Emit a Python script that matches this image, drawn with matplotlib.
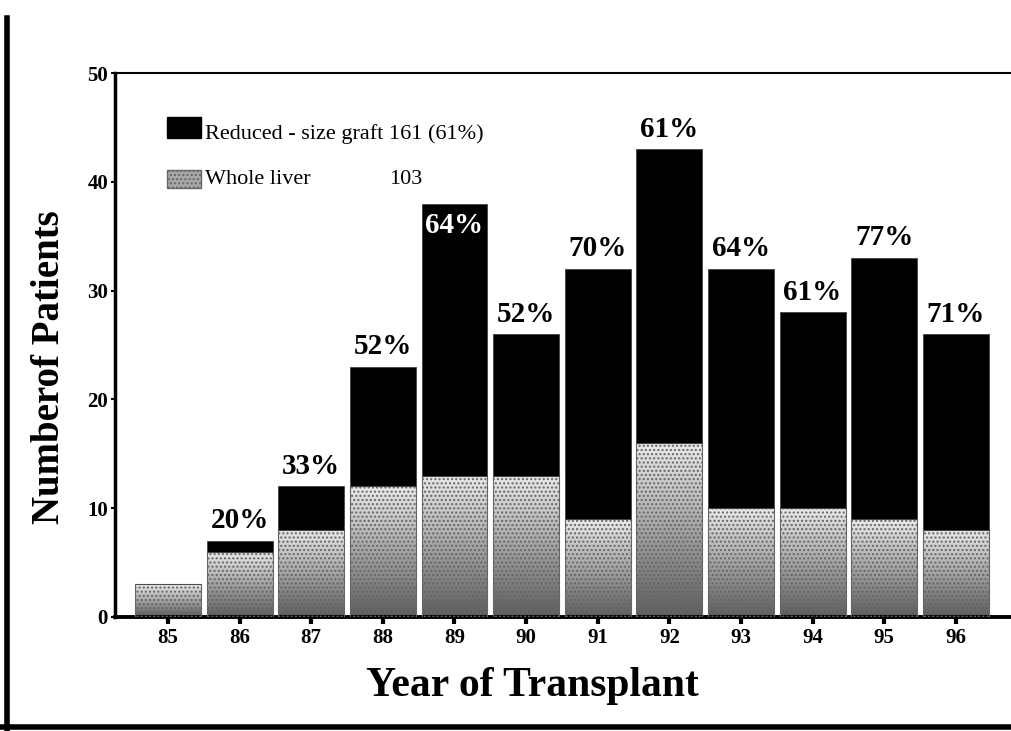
import numpy as np
import matplotlib.pyplot as plt
from matplotlib.lines import Line2D
from matplotlib.patches import Rectangle

years = ['85', '86', '87', '88', '89', '90', '91', '92', '93', '94', '95', '96']
whole_liver = [3, 6, 8, 12, 13, 13, 9, 16, 10, 10, 9, 8]
reduced_size = [0, 1, 4, 11, 25, 13, 23, 27, 22, 18, 24, 18]
pct_labels = ['', '20%', '33%', '52%', '64%', '52%', '70%', '61%', '64%', '61%', '77%', '71%']
inside_label_years = ['89']
legend_reduced = 'Reduced - size graft 161 (61%)'
legend_whole = 'Whole liver'
legend_whole_count = '103'

plt.rcParams['font.family'] = ['Liberation Serif', 'DejaVu Serif']

fig = plt.figure(figsize=(10.11, 7.31), dpi=100)
ax = fig.add_axes([0.1137, 0.156, 0.8863, 0.744])

x = np.arange(len(years))
w = 0.92
totals = np.array(whole_liver) + np.array(reduced_size)

# stippled whole-liver bars: gradient light (top) -> dark (bottom) plus dots
grad = np.linspace(0.92, 0.36, 256).reshape(-1, 1)
whole_bars = ax.bar(x, whole_liver, w, color='none', edgecolor='#666666',
                    linewidth=0.8, hatch='....', zorder=3)
for b in whole_bars:
    im = ax.imshow(grad, cmap='gray', vmin=0, vmax=1, origin='upper', aspect='auto',
                   extent=(b.get_x(), b.get_x() + b.get_width(), 0, b.get_height()),
                   zorder=2)
    im.set_clip_path(b)

ax.bar(x, reduced_size, w, bottom=whole_liver, color='black', edgecolor='#444444',
       linewidth=0.6, zorder=3)

for i, lbl in enumerate(pct_labels):
    if not lbl:
        continue
    if years[i] in inside_label_years:
        ax.text(x[i], totals[i] - 2.0, lbl, ha='center', va='center', color='white',
                fontsize=21, fontweight='bold', zorder=5)
    else:
        ax.text(x[i], totals[i] + 0.6, lbl, ha='center', va='bottom', color='black',
                fontsize=21, fontweight='bold', zorder=5)

ax.set_xlim(-0.74, 11.77)
ax.set_ylim(0, 50)
ax.set_xticks(x, years)
ax.set_yticks([0, 10, 20, 30, 40, 50])
ax.tick_params(axis='x', direction='out', length=5, width=3, labelsize=15, pad=3)
ax.tick_params(axis='y', direction='out', length=3, width=1.5, labelsize=15, pad=2)
for t in ax.get_xticklabels() + ax.get_yticklabels():
    t.set_fontweight('bold')

ax.spines['right'].set_visible(False)
ax.spines['left'].set_linewidth(2.5)
ax.spines['bottom'].set_linewidth(2.8)
ax.spines['top'].set_linewidth(1.5)

# legend drawn by hand
ax.add_patch(Rectangle((0.058, 0.880), 0.038, 0.040, transform=ax.transAxes,
                       facecolor='black', edgecolor='black', zorder=4))
leg_patch = Rectangle((0.058, 0.788), 0.038, 0.033, transform=ax.transAxes,
                      facecolor='#a8a8a8', edgecolor='#666666', hatch='....', zorder=4)
ax.add_patch(leg_patch)
ax.text(0.101, 0.888, legend_reduced, transform=ax.transAxes, fontsize=16,
        ha='left', va='center')
ax.text(0.101, 0.805, legend_whole, transform=ax.transAxes, fontsize=16,
        ha='left', va='center')
ax.text(0.306, 0.805, legend_whole_count, transform=ax.transAxes, fontsize=16,
        ha='left', va='center')

fig.text(50 / 1011, 1 - 367 / 731, 'Numberof Patients', rotation=90, fontsize=28,
         fontweight='bold', ha='center', va='center')
fig.text(532 / 1011, 1 - 686 / 731, 'Year of Transplant', fontsize=30,
         fontweight='bold', ha='center', va='center')

# outer frame lines (left and bottom)
fig.add_artist(Line2D([0.007, 0.007], [0.0, 0.975], transform=fig.transFigure,
                      color='black', linewidth=4))
fig.add_artist(Line2D([0.0, 1.0], [0.006, 0.006], transform=fig.transFigure,
                      color='black', linewidth=4))

fig.savefig('out.png', dpi=100)
